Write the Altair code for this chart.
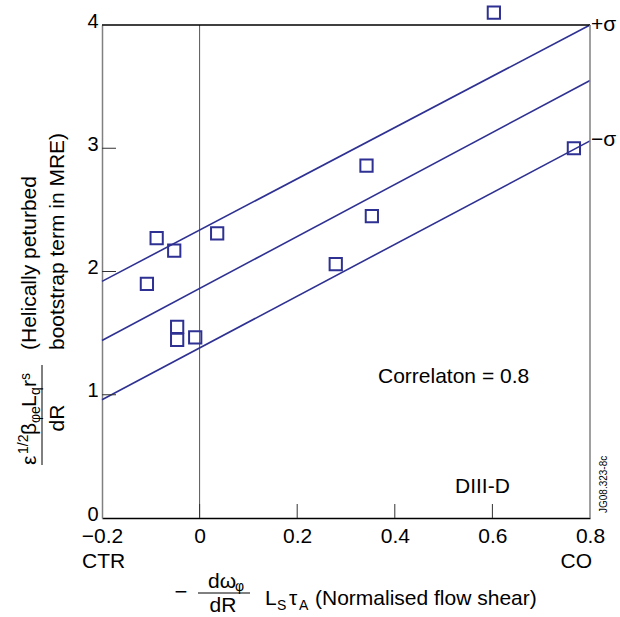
import altair as alt
import pandas as pd

# ---- data ----
shear = [-0.108, -0.088, -0.052, -0.046, -0.046, -0.009, 0.036, 0.279, 0.342, 0.353, 0.603, 0.767]
bootstrap = [1.90, 2.27, 2.17, 1.55, 1.445, 1.465, 2.31, 2.06, 2.86, 2.45, 4.10, 3.00]

fit_x = [-0.2, 0.8]
fit_upper = [1.92, 4.00]
fit_mid = [1.44, 3.55]
fit_lower = [0.96, 3.06]

x_tick_values = [-0.2, 0, 0.2, 0.4, 0.6, 0.8]
y_tick_values = [0, 1, 2, 3, 4]
inner_x_ticks = [0, 0.2, 0.4, 0.6]
inner_y_ticks = [1, 2, 3]
zero_line = [0]

# ---- styling ----
W, H = 488, 493
NAVY = "#2e3192"
GRAY = "#808080"
FONT = "Liberation Sans"
FS = 21

xscale = alt.Scale(domain=[-0.2, 0.8], nice=False, zero=False)
yscale = alt.Scale(domain=[0, 4], nice=False, zero=False)

pts = pd.DataFrame({"x": shear, "y": bootstrap})
fits = pd.DataFrame({
    "x": fit_x * 3,
    "y": fit_upper + fit_mid + fit_lower,
    "band": ["upper"] * 2 + ["mid"] * 2 + ["lower"] * 2,
})
one = pd.DataFrame({"a": [0]})

x_axis = alt.Axis(
    values=x_tick_values, ticks=False, grid=False, title=None,
    labelExpr="datum.value == 0 ? '0' : replace(format(datum.value, '.1f'), '-', '\u2212')",
    domainColor="black", domainWidth=1.5, labelFontSize=FS, labelFont=FONT,
    labelColor="black", labelPadding=7, labelFlush=False, labelOverlap=False,
    labelBound=False,
)
y_axis = alt.Axis(
    values=y_tick_values, format="d", ticks=False, grid=False, title=None,
    domainColor=GRAY, domainWidth=1.5, labelFontSize=20, labelFont=FONT,
    labelColor="black", labelPadding=4, labelOverlap=False, labelOffset=-4,
)


def X(field):
    return alt.X(field, scale=xscale, axis=x_axis)


def Y(field):
    return alt.Y(field, scale=yscale, axis=y_axis)


points = alt.Chart(pts).mark_point(
    shape="square", size=150, filled=False, color=NAVY, strokeWidth=2, clip=False, opacity=1
).encode(x=X("x:Q"), y=Y("y:Q"))

lines = alt.Chart(fits).mark_line(color=NAVY, strokeWidth=1.6).encode(
    x=X("x:Q"), y=Y("y:Q"), detail="band:N"
)

zero_rule = alt.Chart(pd.DataFrame({"v": zero_line})).mark_rule(color="#555555", strokeWidth=1).encode(
    x=X("v:Q"), y=alt.value(0), y2=alt.value(H)
)

xt = alt.Chart(pd.DataFrame({"v": inner_x_ticks})).mark_rule(color="#333333", strokeWidth=1).encode(
    x=X("v:Q"), y=alt.value(H), y2=alt.value(H - 14)
)
yt = alt.Chart(pd.DataFrame({"v": inner_y_ticks})).mark_rule(color="#333333", strokeWidth=1).encode(
    y=Y("v:Q"), x=alt.value(0), x2=alt.value(14)
)

top_frame = alt.Chart(one).mark_rule(color="black", strokeWidth=1.5).encode(
    x=alt.value(0), x2=alt.value(W), y=alt.value(0)
)
right_frame = alt.Chart(one).mark_rule(color=GRAY, strokeWidth=1.5).encode(
    x=alt.value(W), y=alt.value(0), y2=alt.value(H)
)


def txt(s, x, y, size=FS, align="left", baseline="alphabetic", angle=0):
    kw = dict(text=s, fontSize=size, font=FONT, align=align, baseline=baseline, color="black")
    if angle:
        kw["angle"] = angle
    return alt.Chart(one).mark_text(**kw).encode(x=alt.value(x), y=alt.value(y))


def fline(x1, x2, y1, y2):
    return alt.Chart(one).mark_rule(color="black", strokeWidth=1).encode(
        x=alt.value(x1), x2=alt.value(x2), y=alt.value(y1), y2=alt.value(y2)
    )


annots = [
    txt("Correlaton = 0.8", 276, 358),
    txt("DIII-D", 353, 468),
    txt("+\u03c3", 489, 0, baseline="middle"),
    txt("\u2212\u03c3", 489, 115, baseline="middle"),
    txt("JG08.323-8c", 502, 488, size=10, angle=270, baseline="middle"),
    txt("CTR", -20, 543),
    txt("CO", 490, 543, align="right"),
    # x title
    txt("\u2212", 79, 574, align="center", size=22),
    txt("d\u03c9", 106, 563),
    txt("\u03c6", 133, 566, size=14),
    fline(96, 148, 568, 568),
    txt("dR", 121, 587, align="center"),
    txt("L", 163, 580),
    txt("S", 175, 585, size=14),
    txt("\u03c4", 187, 580),
    txt("A", 197, 585, size=14),
    txt("(Normalised flow shear)", 213, 580),
    # y title
    txt("(Helically peturbed", -66, 325, size=21, angle=270),
    txt("bootstrap term in MRE)", -38, 325, size=21, angle=270),
    fline(-60, -60, 340, 440),
    txt("dR", -38, 393, size=21, angle=270, align="center"),
]

# numerator pieces of the y title (text, size, baseline shift, advance)
num_pieces = [
    ("\u03b5", 21, 0, 11),
    ("1/2", 14, -8, 19),
    ("\u03b2", 21, 0, 12),
    ("\u03c6e", 14, 4, 16),
    ("L", 21, 0, 12),
    ("q", 14, 4, 8),
    ("r", 21, 0, 7),
    ("s", 14, -6, 7),
]
pos = 440
for s, size, shift, adv in num_pieces:
    annots.append(txt(s, -66 + shift, pos, size=size, angle=270))
    pos -= adv

chart = alt.layer(
    zero_rule, lines, xt, yt, top_frame, right_frame, points, *annots
).properties(
    width=W, height=H,
    padding={"left": 102, "top": 25, "right": 30, "bottom": 99},
    autosize=alt.AutoSizeParams(type="none"),
).configure_view(stroke=None)

chart.save("out.html", embed_options={"renderer": "svg", "actions": False})
